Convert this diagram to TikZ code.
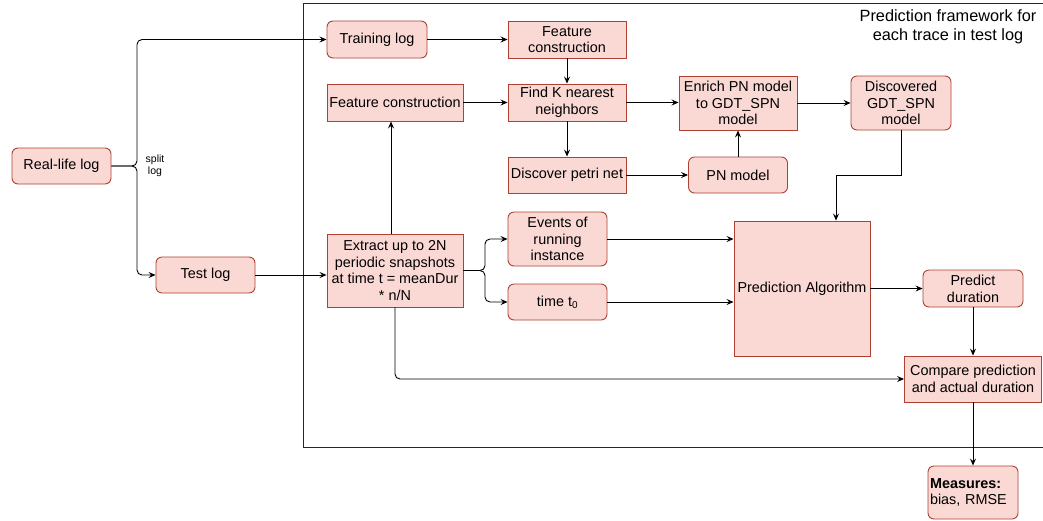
\documentclass[tikz,border=0pt]{standalone}
\usepackage{fontspec}
\setmainfont{Liberation Sans}
\usetikzlibrary{arrows.meta}
\definecolor{boxfill}{HTML}{FAD9D5}
\definecolor{boxline}{HTML}{AE4132}
\tikzset{
  base/.style={draw=boxline, fill=boxfill, line width=0.9pt, inner sep=0pt, align=center,
    font=\fontsize{14.4}{16.7}\selectfont},
  sq/.style={base},
  rnd/.style={base, rounded corners=6pt},
  arr/.style={-{Stealth[length=7pt,width=6pt,inset=2.5pt]}, line width=0.9pt, black},
}
\begin{document}
\begin{tikzpicture}[x=1pt,y=-1pt]
\useasboundingbox (0,0) rectangle (1043,520);
% frame
\draw[line width=0.9pt, black!85] (1045,3) -- (303,3) -- (303,447) -- (1045,447);
\node[font=\fontsize{16.3}{18.7}\selectfont, align=center] (title) at (948,27) {Prediction framework for\\each trace in test log};

% nodes
\node[rnd, minimum width=99pt, minimum height=36pt] (real) at (61.5,166) {Real-life log};
\node[rnd, minimum width=99pt, minimum height=36pt] (test) at (205.5,275) {Test log};
\node[rnd, minimum width=100pt, minimum height=37pt] (train) at (377,39.5) {Training log};
\node[sq, minimum width=118pt, minimum height=37pt] (feat1) at (567,39.5) {Feature\\construction};
\node[sq, minimum width=136pt, minimum height=37pt] (feat2) at (395,102.5) {Feature construction};
\node[sq, minimum width=118pt, minimum height=37pt] (knn) at (567,102.5) {Find K nearest\\neighbors};
\node[sq, minimum width=118pt, minimum height=36pt] (petri) at (567,175) {Discover petri net};
\node[sq, minimum width=118pt, minimum height=54pt] (enrich) at (738,103) {Enrich PN model\\to GDT\_SPN\\model};
\node[rnd, minimum width=100pt, minimum height=54pt] (disc) at (901,103) {Discovered\\GDT\_SPN\\model};
\node[rnd, minimum width=99pt, minimum height=36pt] (pn) at (738,175) {PN model};
\node[sq, minimum width=136pt, minimum height=73pt] (extract) at (395,270.5) {Extract up to 2N\\periodic snapshots\\at time t = meanDur\\* n/N};
\node[rnd, minimum width=99pt, minimum height=54pt] (events) at (557.5,239) {Events of\\running\\instance};
\node[rnd, minimum width=99pt, minimum height=36pt] (time) at (557.5,302) {time t\textsubscript{0}};
\node[sq, minimum width=136pt, minimum height=135pt] (pred) at (802,288.5) {Prediction Algorithm};
\node[rnd, minimum width=100pt, minimum height=37pt] (pdur) at (973,288.5) {Predict\\duration};
\node[sq, minimum width=137pt, minimum height=46pt] (compare) at (973,379) {Compare prediction\\and actual duration};
\node[rnd, minimum width=90pt, minimum height=53pt, align=left, text width=86pt] (measures) at (973,492.5) {\textbf{Measures:}\\bias, RMSE};

% split label
\node[font=\fontsize{10.5}{12.5}\selectfont, align=center] (splitlbl) at (155,166) {split\\log};

% helper coordinates
\coordinate (split1) at (137,166);
\coordinate (split2) at (485,270.5);
\coordinate (bend) at (901,175);

% connectors
\draw[arr, rounded corners=5pt] (real.east) -- (split1) |- (train.west);
\draw[arr, rounded corners=5pt] (real.east) -- (split1) |- (test.west);
\draw[arr] (train) -- (feat1);
\draw[arr] (feat1) -- (knn);
\draw[arr] (feat2) -- (knn);
\draw[arr] (knn) -- (petri);
\draw[arr] (knn.east) -- (knn.east -| enrich.west);
\draw[arr] (petri) -- (pn);
\draw[arr] (pn) -- (enrich);
\draw[arr] (enrich) -- (disc);
\draw[arr] (disc.south) -- (bend) -| ([xshift=34pt]pred.north);
\draw[arr] (test.east) -- (test.east -| extract.west);
\draw[arr] ([xshift=-4pt]extract.north) -- ([xshift=-4pt]feat2.south);
\draw[arr, rounded corners=5pt] (extract.east) -- (split2) |- (events.west);
\draw[arr, rounded corners=5pt] (extract.east) -- (split2) |- (time.west);
\draw[arr] (events.east) -- (events.east -| pred.west);
\draw[arr] (time.east) -- (time.east -| pred.west);
\draw[arr] (pred) -- (pdur);
\draw[arr] (pdur) -- (compare);
\draw[arr, rounded corners=5pt] (extract.south) |- (compare.west);
\draw[arr] (compare) -- (measures);
\end{tikzpicture}
\end{document}
